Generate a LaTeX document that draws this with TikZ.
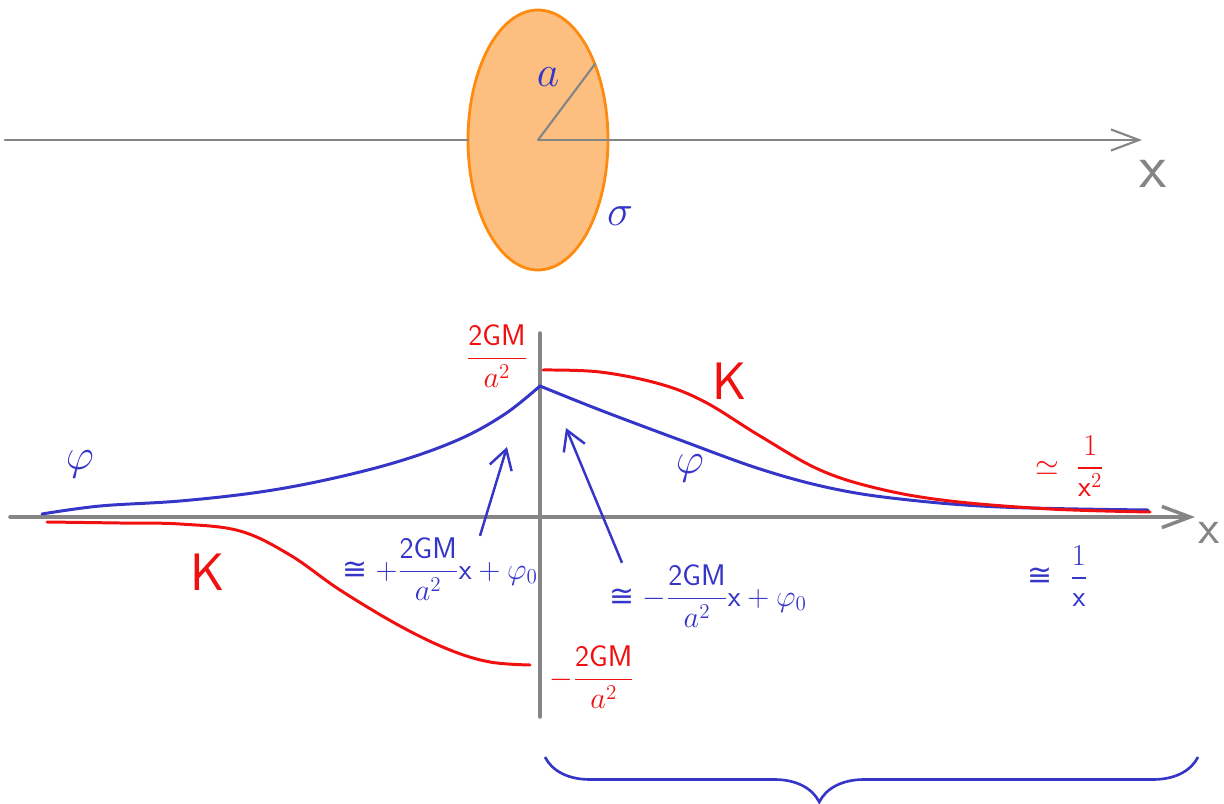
\documentclass[tikz,border=0pt]{standalone}
\usepackage{amsmath,amssymb}
\usepackage{fontspec}
\newfontfamily\dejavu{DejaVu Sans}
\usepackage{tikz}
\usetikzlibrary{arrows.meta,positioning,calc,decorations.pathreplacing}
\definecolor{penblue}{HTML}{3535C8}
\definecolor{penred}{HTML}{F01010}
\definecolor{axisgray}{HTML}{858585}
\definecolor{diskfill}{HTML}{FDBF80}
\definecolor{diskedge}{HTML}{FF8A10}
\newcommand{\gm}{\dfrac{\mathsf{2GM}}{a^2}}
\newcommand{\approxto}{\mathrel{\text{\dejavu ≅}}}
\tikzset{
  axisline/.style={
    draw=axisgray, line width=#1, line cap=round
  },
  axisline/.default=1.2pt,
  axistip/.style={
    -{Straight Barb[length=16pt,width=12pt,line width=#1]}
  },
  curveline/.style={
    draw=#1, line width=1.7pt, line cap=round, line join=round
  },
  curveline/.default=penblue,
  pointer/.style={
    -{Straight Barb[length=11pt,width=13pt]}, line width=1.4pt, color=penblue
  },
  handlabel/.style={
    text=#1, inner sep=1pt, font=\fontsize{17}{20}\selectfont
  },
  handlabel/.default=penblue,
  biglabel/.style={
    text=#1, inner sep=1pt, font=\fontsize{30}{34}\selectfont
  },
  biglabel/.default=penblue,
}

\begin{document}
\begin{tikzpicture}[x=0.02cm, y=-0.02cm]
  \useasboundingbox (0,0) rectangle (1224,804);

  % disk and upper axis
  \coordinate (diskc) at (538,140);
  \coordinate (rim) at (595,64);
  \coordinate (xleft) at (5,140);
  \coordinate (xright) at (1142,140);
  \fill[diskfill, draw=diskedge, line width=1.6pt] (diskc) ellipse [x radius=1.4cm, y radius=2.6cm];
  \draw[axisline] (xleft) -- (468,140);
  \draw[axisline, axistip=1.2pt] (diskc) -- (xright);
  \draw[axisline] (diskc) -- (rim);
  \node[biglabel, font=\fontsize{26}{30}\selectfont] (lbla) at (548,77) {$a$};
  \node[biglabel, font=\fontsize{26}{30}\selectfont] (lblsigma) at (620,216) {$\sigma$};
  \node[biglabel=axisgray, font=\fontsize{36}{40}\selectfont] (lblxtop) at (1153,174) {$\mathsf{x}$};

  % lower axes
  \coordinate (ytop) at (540,333);
  \coordinate (ybot) at (540,717);
  \coordinate (hleft) at (10,517);
  \coordinate (hright) at (1195,517);
  \draw[axisline=2pt] (ytop) -- (ybot);
  \draw[axisline=2pt, axistip=2pt] (hleft) -- (hright);
  \node[biglabel=axisgray, font=\fontsize{28}{32}\selectfont] (lblxbot) at (1209,533) {$\mathsf{x}$};

  % potential phi
  \draw[curveline] plot[smooth, tension=0.6] coordinates {
    (42,514) (100,506) (180,501) (260,492) (330,479) (400,461)
    (460,439) (505,414) (540,386)};
  \draw[curveline] plot[smooth, tension=0.6] coordinates {
    (540,386) (600,410) (680,440) (760,469) (830,488)
    (900,499) (1000,507) (1148,510)};
  % field K
  \draw[curveline=penred] plot[smooth, tension=0.6] coordinates {
    (543,370) (600,372) (660,384) (705,402) (760,436) (820,470)
    (880,489) (950,501) (1050,509) (1150,512)};
  \draw[curveline=penred] plot[smooth, tension=0.6] coordinates {
    (47,522) (120,523) (180,524) (240,531) (290,555) (340,590)
    (400,626) (450,650) (490,662) (530,665)};

  % labels
  \node[biglabel=penred] (kright) at (730,381) {$\mathsf{K}$};
  \node[biglabel=penred] (kleft) at (208,572) {$\mathsf{K}$};
  \node[biglabel] (phileft) at (80,464) {$\varphi$};
  \node[biglabel] (phiright) at (690,468) {$\varphi$};
  \node[handlabel=penred] (fractop) at (497,356) {$\gm$};
  \node[handlabel=penred] (fracbot) at (592,677) {$-\gm$};
  \node[handlabel] (approxplus) at (440,569) {$\approxto+\gm\mathsf{x}+\varphi_0$};
  \node[handlabel] (approxminus) at (708,596) {$\approxto-\gm\mathsf{x}+\varphi_0$};
  \node[handlabel=penred] (farK) at (1070,466) {$\simeq\;\dfrac{1}{\mathsf{x}^2}$};
  \node[handlabel] (farphi) at (1058,576) {$\approxto\;\dfrac{1}{\mathsf{x}}$};

  % pointers to the slopes
  \coordinate (peakleft) at (507,447);
  \coordinate (peakright) at (566,428);
  \draw[pointer] ([xshift=0.8cm]approxplus.north) -- (peakleft);
  \draw[pointer] ([xshift=-1.72cm]approxminus.north) -- (peakright);

  % brace
  \coordinate (braceA) at (545,757);
  \coordinate (braceB) at (1198,757);
  \draw[penblue, line width=1.5pt, decorate,
        decoration={brace, mirror, amplitude=0.9cm, aspect=0.42}] (braceA) -- (braceB);
\end{tikzpicture}
\end{document}
